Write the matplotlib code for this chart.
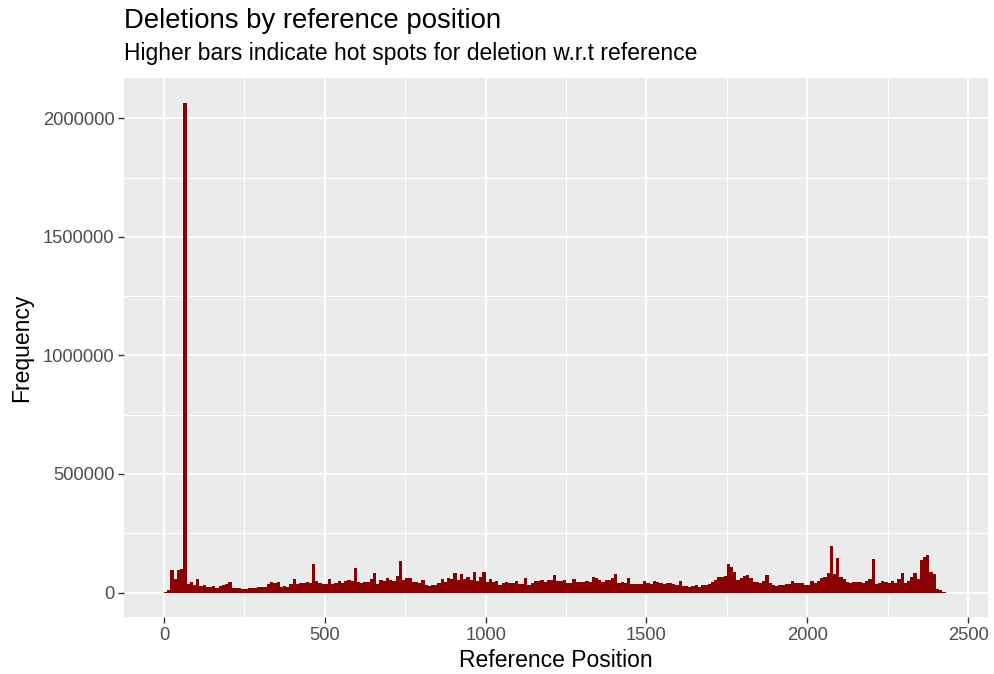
import numpy as np
import matplotlib
matplotlib.use("Agg")
import matplotlib.pyplot as plt
from matplotlib.ticker import FixedLocator

# Histogram of deletion counts, binned every 10 reference positions
bin_width = 10
bin_start = 0
counts = [
    3000, 10000, 95000, 57000, 95000, 100000, 2067000, 36000, 45000, 32000,
    57000, 28000, 32000, 24000, 24000, 28000, 17000, 28000, 32000, 36000,
    45000, 17000, 17000, 17000, 13000, 13000, 17000, 21000, 17000, 25000,
    25000, 25000, 34000, 46000, 38000, 46000, 25000, 29000, 25000, 34000,
    55000, 34000, 38000, 42000, 46000, 42000, 122000, 50000, 38000, 34000,
    34000, 55000, 35000, 39000, 48000, 39000, 48000, 52000, 48000, 103000,
    44000, 39000, 44000, 44000, 56000, 82000, 35000, 52000, 48000, 60000,
    52000, 48000, 69000, 132000, 52000, 60000, 60000, 44000, 44000, 39000,
    52000, 31000, 27000, 31000, 31000, 39000, 56000, 44000, 60000, 56000,
    82000, 52000, 77000, 56000, 65000, 52000, 86000, 48000, 65000, 86000,
    44000, 56000, 44000, 48000, 31000, 39000, 44000, 39000, 39000, 48000,
    35000, 35000, 60000, 31000, 39000, 48000, 48000, 52000, 44000, 52000,
    52000, 73000, 48000, 48000, 52000, 39000, 39000, 56000, 44000, 44000,
    44000, 48000, 44000, 65000, 60000, 52000, 44000, 52000, 52000, 60000,
    77000, 39000, 44000, 39000, 60000, 35000, 35000, 35000, 35000, 48000,
    39000, 35000, 48000, 44000, 39000, 35000, 39000, 39000, 35000, 31000,
    48000, 27000, 27000, 22000, 27000, 31000, 22000, 31000, 31000, 35000,
    44000, 52000, 65000, 65000, 69000, 120000, 107000, 86000, 52000, 60000,
    69000, 73000, 60000, 44000, 44000, 39000, 48000, 73000, 39000, 31000,
    27000, 31000, 31000, 35000, 35000, 48000, 39000, 39000, 39000, 31000,
    31000, 48000, 39000, 48000, 60000, 65000, 82000, 195000, 77000, 145000,
    65000, 56000, 44000, 39000, 44000, 44000, 44000, 39000, 48000, 56000,
    141000, 35000, 39000, 48000, 44000, 39000, 48000, 39000, 56000, 82000,
    39000, 48000, 65000, 82000, 56000, 136000, 149000, 157000, 86000, 77000,
    14000, 10000, 3000,
]

x_ticks = [0, 500, 1000, 1500, 2000, 2500]
x_minor = [250, 750, 1250, 1750, 2250]
y_ticks = [0, 500000, 1000000, 1500000, 2000000]
y_minor = [250000, 750000, 1250000, 1750000]

title = "Deletions by reference position"
subtitle = "Higher bars indicate hot spots for deletion w.r.t reference"
x_label = "Reference Position"
y_label = "Frequency"

plt.rcParams["font.family"] = ["Liberation Sans", "DejaVu Sans"]

lefts = bin_start + bin_width * np.arange(len(counts))

fig = plt.figure(figsize=(9.94, 6.74), dpi=100)
W, H = 994, 674
ax = fig.add_axes([124 / W, (H - 617) / H, (988 - 124) / W, (617 - 78) / H])

ax.set_facecolor("#EBEBEB")
for s in ax.spines.values():
    s.set_visible(False)

ax.bar(lefts, counts, width=bin_width, align="edge", color="#8B0000",
       linewidth=0, zorder=3)

ax.set_xlim(-124.4, 2562)
ymax = max(counts)
ax.set_ylim(-0.05 * ymax, 1.05 * ymax)

ax.xaxis.set_major_locator(FixedLocator(x_ticks))
ax.yaxis.set_major_locator(FixedLocator(y_ticks))
ax.xaxis.set_minor_locator(FixedLocator(x_minor))
ax.yaxis.set_minor_locator(FixedLocator(y_minor))
ax.set_xticklabels([str(v) for v in x_ticks])
ax.set_yticklabels([str(v) for v in y_ticks])

ax.grid(which="major", color="white", linewidth=1.4, zorder=0)
ax.grid(which="minor", color="white", linewidth=0.7, zorder=0)
ax.set_axisbelow(True)

ax.tick_params(which="major", length=4, width=1.0, color="#333333",
               labelcolor="#4D4D4D", labelsize=13.2, pad=3)
ax.tick_params(which="minor", length=0)

ax.set_xlabel(x_label, fontsize=16.5, color="black", labelpad=4)
ax.set_ylabel(y_label, fontsize=16.5, color="black", labelpad=7)

fig.text(124 / W, 1 - 28 / H, title, fontsize=19.8, color="black",
         ha="left", va="baseline")
fig.text(124 / W, 1 - 60 / H, subtitle, fontsize=16.5, color="black",
         ha="left", va="baseline")

fig.savefig("out.png", dpi=100, facecolor="white")
